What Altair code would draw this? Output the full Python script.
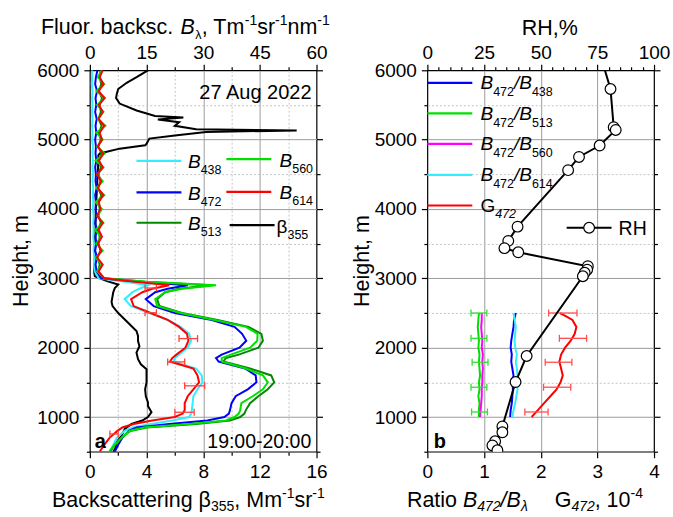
import altair as alt
import pandas as pd

FONT = "Liberation Sans"
PW, PH = 227, 382

# ---------------- panel a : fluorescence / backscattering ----------------
H_LOW = [500, 600, 700, 800, 850, 900, 950, 1000, 1050, 1100, 1200, 1300, 1400,
         1500, 1600, 1700, 1800, 1850, 1900, 2000, 2100, 2200, 2300, 2400, 2500,
         2600, 2700, 2800, 2850, 2900, 2950, 3000]
H_UP = list(range(3100, 6001, 100))
H_B = H_LOW + H_UP

# fluorescence backscattering, Tm-1 sr-1 nm-1 (top axis)
B438 = [5.3, 6.2, 7.1, 9.2, 11.3, 16.1, 21.8, 26.3, 26.8, 27.0, 27.2, 27.4, 28.5, 29.8, 29.6, 28.1,
        22.1, 22.5, 23.6, 25.9, 26.8, 26.3, 24.0, 20.6, 15.8, 10.9, 9.2, 11.3, 13.1, 15.4, 9.4, 2.3,
        1.3, 1.1, 1.2, 1.0, 1.1, 0.9, 1.0, 0.9, 1.0, 0.8, 0.9, 0.8, 0.9, 0.7, 0.8, 0.7, 0.8, 0.7,
        0.8, 0.6, 0.7, 0.6, 0.7, 0.6, 0.7, 0.6, 0.7, 0.5, 0.6, 0.6]
B472 = [6.6, 7.5, 8.6, 10.3, 12.4, 21.0, 31.1, 35.6, 36.8, 37.1, 37.5, 38.6, 41.8, 44.1, 43.9, 41.1,
        34.1, 33.4, 34.9, 39.6, 41.4, 40.3, 38.3, 32.3, 22.5, 16.9, 14.8, 17.3, 20.6, 25.9, 13.1, 3.0,
        1.8, 1.5, 1.9, 1.4, 1.7, 1.5, 1.8, 1.4, 1.7, 1.5, 1.6, 1.4, 1.8, 1.5, 1.6, 1.4, 1.7, 1.5,
        1.6, 1.4, 1.7, 1.5, 1.8, 1.4, 1.7, 1.5, 1.9, 1.4, 1.6, 2.0]
B513 = [5.4, 6.6, 8.3, 10.7, 15.0, 28.1, 37.1, 39.8, 40.9, 41.3, 42.4, 44.6, 47.1, 48.8, 48.0, 42.4,
        35.3, 36.0, 39.4, 44.6, 45.8, 45.4, 42.0, 33.8, 24.4, 18.4, 17.8, 19.9, 23.6, 31.9, 14.6, 3.8,
        2.2, 2.6, 2.0, 2.8, 2.3, 2.6, 2.1, 2.9, 2.3, 2.6, 2.4, 3.0, 2.2, 2.8, 2.3, 2.9, 2.4, 3.1,
        2.2, 2.9, 2.4, 3.1, 2.3, 2.9, 2.6, 3.2, 2.4, 3.0, 2.6, 2.8]
B560 = [5.1, 6.6, 8.4, 10.5, 14.3, 26.3, 36.0, 38.3, 39.4, 39.8, 40.1, 43.1, 45.8, 47.1, 45.8, 41.3,
        34.9, 34.9, 37.3, 42.4, 44.3, 44.4, 41.3, 33.0, 24.0, 17.8, 17.3, 19.9, 24.4, 33.4, 15.0, 3.8,
        1.9, 3.2, 1.5, 3.4, 1.7, 3.0, 1.4, 3.6, 1.9, 3.2, 1.5, 3.8, 1.7, 3.4, 1.9, 3.6, 1.5, 3.9,
        1.9, 3.4, 1.7, 4.1, 2.1, 3.6, 1.9, 3.9, 1.7, 3.8, 2.1, 3.2]
B614 = [2.6, 3.8, 5.2, 7.3, 8.6, 11.6, 16.5, 22.5, 24.6, 25.1, 25.1, 25.9, 27.4, 28.9, 28.5, 27.4,
        21.2, 21.8, 22.9, 25.3, 26.1, 25.7, 23.6, 20.6, 16.1, 11.6, 10.9, 13.9, 16.5, 21.0, 12.0, 3.8,
        2.3, 3.4, 1.9, 3.0, 2.1, 3.2, 2.3, 3.4, 1.9, 2.8, 2.3, 3.6, 2.1, 3.0, 1.9, 3.4, 2.4, 3.6,
        2.1, 3.2, 2.6, 3.8, 2.3, 3.4, 2.4, 3.9, 2.3, 3.6, 2.6, 3.4]

# error bars of B614
ERR_A_H = [2860, 2504, 2131, 1795, 1450, 1069, 757]
ERR_A_LO = [14.6, 14.6, 23.6, 20.6, 25.1, 22.5, 5.3]
ERR_A_HI = [17.6, 17.6, 28.5, 25.1, 30.4, 27.6, 7.5]

# backscattering beta355, Mm-1 sr-1 (bottom axis)
BETA_H = [500, 550, 640, 730, 780, 830, 900, 950, 1000, 1070, 1160, 1210, 1300, 1400, 1500, 1600,
          1690, 1760, 1835, 1930, 2020, 2095, 2170, 2240, 2360, 2500, 2600, 2660, 2800, 2860, 2910,
          2960, 3030, 3100, 3300, 3500, 3700, 3900, 4100, 4300, 4500, 4700, 4775, 4800, 4870, 4918,
          4940, 5015, 5060, 5110, 5133, 5150, 5200, 5250, 5290, 5320, 5340, 5420, 5520, 5600, 5660,
          5730, 5820, 5900, 6000]
BETA_V = [1.65, 1.8, 1.9, 2.23, 2.35, 2.47, 2.94, 3.7, 4.1, 4.35, 4.1, 4.1, 3.95, 3.9, 4.0, 4.0,
          4.0, 3.6, 3.4, 3.29, 3.5, 3.4, 3.4, 3.29, 2.7, 2.0, 1.6, 1.53, 1.65, 1.76, 2.0,
          1.2, 0.35, 0.3, 0.35, 0.35, 0.4, 0.4, 0.45, 0.5, 0.55, 0.6, 0.6, 0.7, 2.1, 3.9,
          4.0, 4.2, 6.0, 8.2, 14.6, 7.5, 6.0, 6.3, 4.8, 6.6, 4.6, 3.3, 2.1, 1.85, 1.9,
          2.0, 2.6, 3.3, 4.1]

# ---------------- panel b : ratios and RH ----------------
RH_H = [6200, 5730, 5180, 5140, 4915, 4750, 4560, 3745, 3540, 3435, 3375, 3175, 3125, 3080, 3030,
        1880, 1505, 865, 780, 650, 590, 520]
RH_V = [76.5, 80.8, 82.2, 83.1, 76.0, 66.9, 62.1, 39.8, 35.7, 34.0, 40.1, 70.8, 70.5, 69.4, 68.6,
        43.8, 38.9, 33.1, 33.1, 29.9, 28.7, 30.9]

R_H = list(range(1000, 2501, 100))
R438 = [1.46, 1.47, 1.49, 1.50, 1.51, 1.50, 1.52, 1.50, 1.48, 1.49, 1.47, 1.48, 1.50, 1.52, 1.53, 1.56]
R513 = [0.91, 0.91, 0.92, 0.90, 0.92, 0.91, 0.93, 0.92, 0.91, 0.92, 0.90, 0.91, 0.90, 0.89, 0.90, 0.91]
R560 = [0.93, 0.94, 0.95, 0.96, 0.96, 0.97, 0.97, 0.98, 0.97, 0.98, 0.96, 0.97, 0.96, 0.95, 0.96, 0.96]
R614 = [1.50, 1.52, 1.55, 1.57, 1.59, 1.60, 1.59, 1.58, 1.56, 1.58, 1.55, 1.54, 1.55, 1.56, 1.54, 1.52]

G_H = [1000, 1100, 1200, 1300, 1400, 1500, 1600, 1700, 1800, 1900, 2000, 2100, 2200, 2300, 2400, 2450, 2500]
G_V = [1.84, 1.95, 2.06, 2.17, 2.28, 2.35, 2.39, 2.36, 2.33, 2.36, 2.43, 2.53, 2.60, 2.63, 2.56, 2.45, 2.34]

ERR_B_H = [2500, 2135, 1790, 1430, 1073]
ERR_G_LO = [2.14, 2.33, 2.08, 2.05, 1.72]
ERR_G_HI = [2.64, 2.81, 2.55, 2.53, 2.13]
ERR_R_LO = [0.77, 0.77, 0.79, 0.77, 0.78]
ERR_R_HI = [1.05, 1.05, 1.07, 1.05, 1.06]

C_CYAN, C_BLUE, C_DKG, C_LIME, C_RED, C_MAG = "#33eeff", "#0000ff", "#008a00", "#00e000", "#ff0000", "#ff00ff"

# ---------------- helpers ----------------
ONE = pd.DataFrame({"k": [0]})
YSCALE = alt.Scale(domain=[500, 6000], nice=False, zero=False)
Y_VALUES = list(range(500, 6001, 500))


def cond(test, a, b):
    return {"condition": {"test": test, "value": a}, "value": b}


Y_LEFT = alt.Axis(orient="left", values=Y_VALUES, format="d", title=None, domain=False,
                  labelExpr="datum.value % 1000 == 0 ? datum.label : ''",
                  grid=True, gridWidth=1,
                  gridDash=cond("datum.value % 1000 == 0", [], [2, 2]),
                  gridColor=cond("datum.value % 1000 == 0", "#9c9c9c", "#c4c4c4"),
                  gridOpacity=cond("datum.value > 500 && datum.value < 6000", 1, 0),
                  tickSize=cond("datum.value % 1000 == 0", 6, 3.5), labelPadding=5)
Y_RIGHT = alt.Axis(orient="right", values=Y_VALUES, title=None, domain=False, labels=False,
                   grid=False, tickSize=cond("datum.value % 1000 == 0", 6, 3.5))


def x_bottom(vals, major_test, hi):
    return alt.Axis(orient="bottom", values=vals, format="d", title=None, domain=False,
                    labelExpr="%s ? datum.label : ''" % major_test,
                    grid=True, gridWidth=1,
                    gridDash=cond(major_test, [], [2, 2]),
                    gridColor=cond(major_test, "#9c9c9c", "#c4c4c4"),
                    gridOpacity=cond("datum.value > 0 && datum.value < %s" % hi, 1, 0),
                    tickSize=cond(major_test, 6, 3.5), labelPadding=5)


def x_top(vals, major_test):
    return alt.Axis(orient="top", values=vals, format="d", title=None, domain=False,
                    labelExpr="%s ? datum.label : ''" % major_test, grid=False,
                    tickSize=cond(major_test, 6, 3.5), labelPadding=2)


def xq(field, domain, axis=None):
    return alt.X(field, scale=alt.Scale(domain=domain, nice=False, zero=False), axis=axis)


def yq(axis=None):
    return alt.Y("h:Q", scale=YSCALE, axis=axis)


ADV = {' ': 278, ',': 278, '.': 278, '-': 333, '/': 278, '%': 889, ':': 278,
       'A': 667, 'B': 667, 'F': 611, 'G': 778, 'H': 722, 'M': 833, 'R': 722, 'T': 611,
       'a': 556, 'b': 556, 'c': 500, 'e': 556, 'g': 556, 'h': 556, 'i': 222, 'k': 500, 'l': 222,
       'm': 833, 'n': 556, 'o': 556, 'r': 333, 's': 500, 't': 278, 'u': 556,
       'β': 575, 'λ': 500}


def text_w(s, size):
    return sum(ADV.get(c, 556) for c in s) * size / 1000.0


def rich(pieces, x, y, align="left"):
    """pieces: (text, size, dy, style[, dx, advance])"""
    def adv(p):
        return p[5] if len(p) > 5 else text_w(p[0], p[1])
    total = sum(adv(p) for p in pieces)
    if align == "center":
        x -= total / 2
    elif align == "right":
        x -= total
    out = []
    for p in pieces:
        t, s, dy, st = p[:4]
        dx = p[4] if len(p) > 4 else 0
        out.append(alt.Chart(ONE).mark_text(text=t, font=FONT, fontSize=s, fontStyle=st,
                                            align="left", baseline="alphabetic", color="black")
                   .encode(x=alt.value(x + dx), y=alt.value(y + dy)))
        x += adv(p)
    return out


def label(text, x, y, size=20, align="left", weight="normal", angle=0, baseline="alphabetic"):
    return alt.Chart(ONE).mark_text(text=text, font=FONT, fontSize=size, align=align,
                                    fontWeight=weight, angle=angle, baseline=baseline,
                                    color="black").encode(x=alt.value(x), y=alt.value(y))


def leg_line(x1, x2, y, color, width=2.2):
    return alt.Chart(ONE).mark_rule(color=color, strokeWidth=width).encode(
        x=alt.value(x1), x2=alt.value(x2), y=alt.value(y))


def profile(h, v, field, domain, color, xaxis=None, yaxis=None, width=2):
    df = pd.DataFrame({"h": h, field: v})
    return alt.Chart(df).mark_line(color=color, strokeWidth=width, clip=True).encode(
        x=xq(field + ":Q", domain, xaxis), y=yq(yaxis), order=alt.Order("h:Q"))


def errbars(h, lo, hi, domain, color):
    df = pd.DataFrame({"h": h, "lo": lo, "hi": hi})
    bar = alt.Chart(df).mark_rule(color=color, strokeWidth=1.3).encode(
        x=xq("lo:Q", domain), x2="hi:Q", y=yq())
    caps = alt.Chart(df).transform_fold(["lo", "hi"], as_=["end", "val"]).mark_point(
        shape="M0,-1L0,1", size=49, filled=False, color=color, strokeWidth=1.3, opacity=1).encode(
        x=xq("val:Q", domain), y=yq())
    return [bar, caps]


# ---------------- panel a ----------------
FL = [0, 60]
layers_a = [
    profile(BETA_H, BETA_V, "beta", [0, 16], "black",
            xaxis=x_bottom(list(range(0, 17, 2)), "datum.value % 4 == 0", 16), yaxis=Y_LEFT),
    profile(H_B, B438, "f438", FL, C_CYAN,
            xaxis=x_top([0, 7.5, 15, 22.5, 30, 37.5, 45, 52.5, 60], "datum.value % 15 == 0"),
            yaxis=Y_RIGHT),
    profile(H_B, B472, "f472", FL, C_BLUE),
    profile(H_B, B513, "f513", FL, C_DKG),
    profile(H_B, B560, "f560", FL, C_LIME),
    profile(H_B, B614, "f614", FL, C_RED),
]
layers_a += errbars(ERR_A_H, ERR_A_LO, ERR_A_HI, FL, "#ff4040")

# legend of panel a
for (sub, col, x1, x2, y, lx) in [("438", C_CYAN, 46.7, 91.7, 90.7, 98.3),
                                  ("472", C_BLUE, 46.7, 91.7, 122.3, 98.3),
                                  ("513", C_DKG, 46.7, 91.7, 152.7, 98.3),
                                  ("560", C_LIME, 136.7, 181.7, 89.0, 190.0),
                                  ("614", C_RED, 136.7, 181.7, 121.7, 190.0)]:
    layers_a.append(leg_line(x1, x2, y, col))
    layers_a += rich([("B", 19, 0, "italic"), (sub, 12.5, 6, "normal")], lx, y + 7.6)
layers_a.append(leg_line(140, 185, 155, "black"))
layers_a += rich([("β", 19, 0, "normal"), ("355", 12.5, 6, "normal")], 187, 162.6)

layers_a += [
    label("27 Aug 2022", 222, 28.3, size=20, align="right"),
    label("19:00-20:00", 221.7, 378.3, size=19.5, align="right"),
    label("a", 5, 378.3, size=20, weight="bold"),
    label("Height, m", -68, PH / 2, size=21.5, align="center", angle=270, baseline="middle"),
]
layers_a += rich([("Backscattering β", 21.5, 0, "normal"), ("355", 14, 4, "normal"),
                  (", Mm", 21.5, 0, "normal"), ("-1", 14, -9, "normal"),
                  ("sr", 21.5, 0, "normal"), ("-1", 14, -9, "normal")], -38, 437.7)
layers_a += rich([("Fluor. backsc. ", 21.5, 0, "normal"), ("B", 21.5, 0, "italic"),
                  ("λ", 12.5, 5.5, "normal", 0.5, 7), (", Tm", 21.5, 0, "normal"),
                  ("-1", 14, -8.5, "normal"),
                  ("sr", 21.5, 0, "normal"), ("-1", 14, -8.5, "normal"),
                  ("nm", 21.5, 0, "normal"), ("-1", 14, -8.5, "normal")], -49, -36.7)

panel_a = alt.layer(*layers_a).resolve_scale(x="independent", y="independent").properties(
    width=PW, height=PH)

# ---------------- panel b ----------------
RD = [0, 4]
rh_df = pd.DataFrame({"h": RH_H, "rh": RH_V})
layers_b = [
    profile(R_H, R513, "r513", RD, C_LIME,
            xaxis=x_bottom([0, 0.5, 1, 1.5, 2, 2.5, 3, 3.5, 4], "datum.value % 1 == 0", 4),
            yaxis=Y_LEFT),
    profile(R_H, R560, "r560", RD, C_MAG),
    profile(R_H, R438, "r438", RD, C_BLUE),
    profile(R_H, R614, "r614", RD, C_CYAN),
    profile(G_H, G_V, "g472", RD, C_RED),
]
layers_b += errbars(ERR_B_H, ERR_R_LO, ERR_R_HI, RD, "#33dd33")
layers_b += errbars(ERR_B_H, ERR_G_LO, ERR_G_HI, RD, "#ff5050")
layers_b += [
    alt.Chart(rh_df).mark_line(color="black", strokeWidth=2, clip=True).encode(
        x=xq("rh:Q", [0, 100], x_top(list(range(0, 101, 5)), "datum.value % 25 == 0")),
        y=yq(Y_RIGHT), order=alt.Order("h:Q", sort="descending")),
    alt.Chart(rh_df).mark_point(shape="circle", size=115, filled=True, fill="white",
                                stroke="black", strokeWidth=1.2, opacity=1, clip=True).encode(
        x=xq("rh:Q", [0, 100]), y=yq()),
]

for (col, sub, y) in [(C_BLUE, "438", 12.7), (C_LIME, "513", 43.1),
                      (C_MAG, "560", 73.7), (C_CYAN, "614", 104.7)]:
    layers_b.append(leg_line(0, 45, y, col))
    layers_b += rich([("B", 19, 0, "italic"), ("472", 12.5, 7, "normal"), ("/", 19, 0, "italic"),
                      ("B", 19, 0, "italic"), (sub, 12.5, 7, "normal")], 53.2, y + 6.5)
layers_b.append(leg_line(0, 45, 135.4, C_RED))
layers_b += rich([("G", 19, 0, "normal"), ("472", 12.5, 6, "italic")], 53.2, 142.4)

layers_b += [
    leg_line(139.5, 184.5, 157.7, "black", 2),
    alt.Chart(ONE).mark_point(shape="circle", size=115, filled=True, fill="white", stroke="black",
                              strokeWidth=1.2, opacity=1).encode(x=alt.value(162), y=alt.value(157.7)),
    label("RH", 191.5, 165, size=19.5),
    label("b", 6.5, 378.3, size=20, weight="bold"),
    label("Height, m", -64, PH / 2, size=21.5, align="center", angle=270, baseline="middle"),
    label("RH,%", 94.5, -35, size=21.5),
]
layers_b += rich([("Ratio ", 21.5, 0, "normal"), ("B", 21.5, 0, "italic"), ("472", 14, 4, "italic"),
                  ("/", 21.5, 0, "italic"), ("B", 21.5, 0, "italic"), ("λ", 14, 4, "italic")],
                 -20.5, 437.7)
layers_b += rich([("G", 21.5, 0, "normal"), ("472", 14, 4, "italic"), (", 10", 21.5, 0, "normal"),
                  ("-4", 14, -9, "normal")], 127.5, 437.7)

panel_b = alt.layer(*layers_b).resolve_scale(x="independent", y="independent").properties(
    width=PW, height=PH)

chart = alt.hconcat(panel_a, panel_b, spacing=111, bounds="flush").properties(
    padding={"left": 10, "top": 13, "right": 2, "bottom": 2}
).configure(background="white").configure_view(
    stroke="black", strokeWidth=1.2
).configure_axis(
    labelFont=FONT, labelFontSize=19, labelColor="black", tickColor="black", tickWidth=1.2,
    labelFlush=False, labelOverlap=False
)

chart.save("out.html", embed_options={"renderer": "svg", "actions": False})
